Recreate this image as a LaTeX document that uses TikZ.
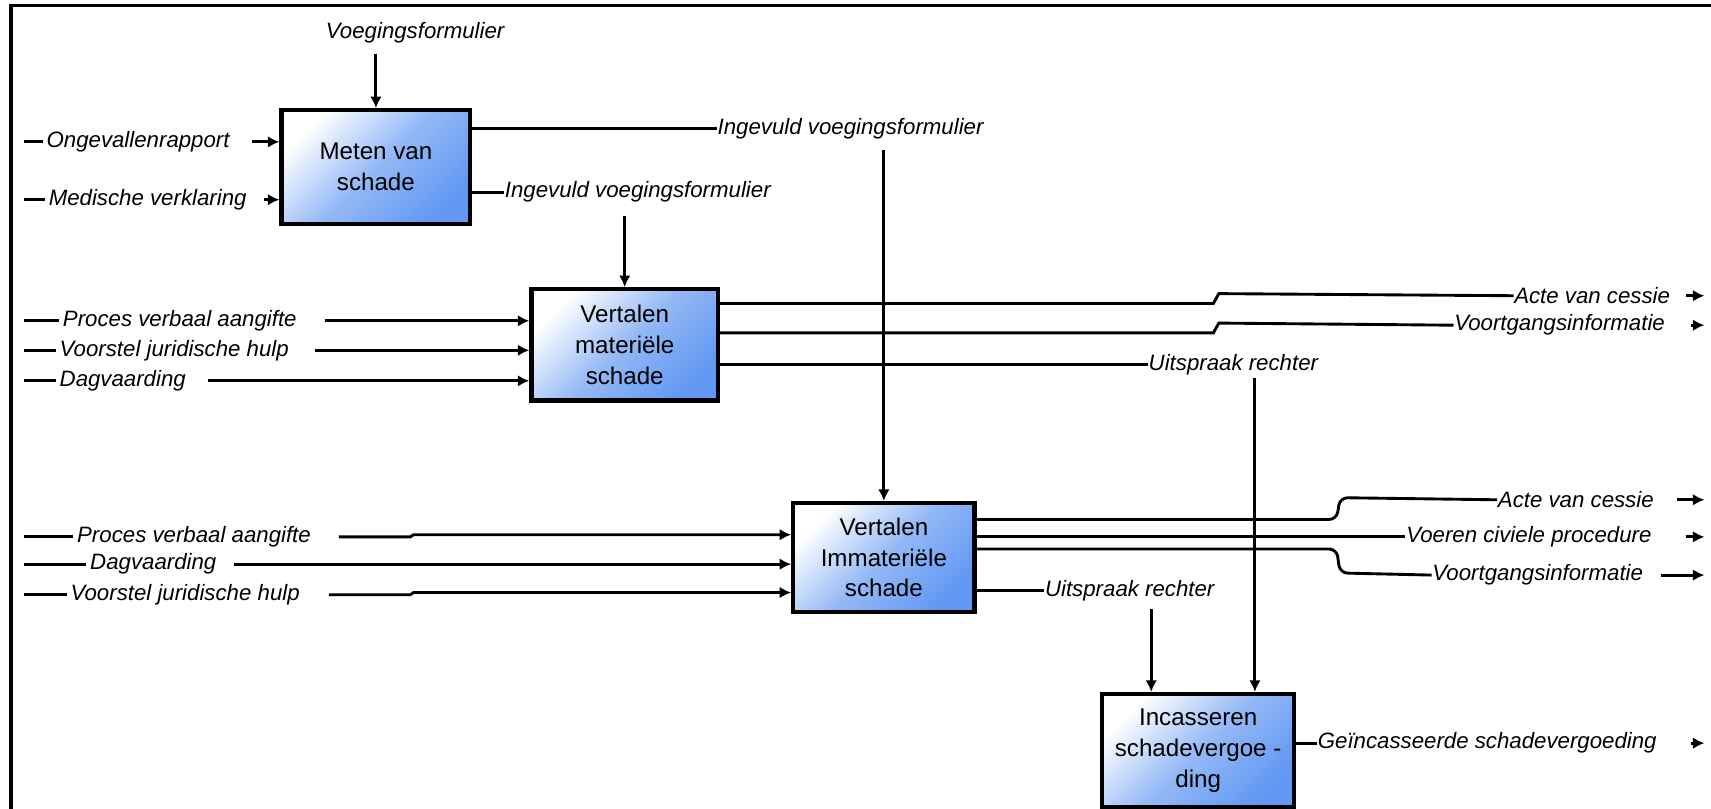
\documentclass[tikz,border=0pt]{standalone}
\usepackage{fontspec}
\setmainfont{Liberation Sans}
\usepackage{xcolor}
\usepackage{tikz}
\usetikzlibrary{calc,arrows.meta}
\definecolor{ink}{HTML}{000000}
\definecolor{boxlight}{HTML}{FFFFFF}
\definecolor{boxmid}{HTML}{94B9F5}
\definecolor{boxdark}{HTML}{6298F3}
\tikzset{
  frame/.style={draw=ink, line width=0.9pt},
  line/.style={draw=ink, line width=0.75pt},
  arr/.style={line, -{Latex[length=3pt,width=3pt]}},
  act/.style={draw=ink, line width=1.1pt, top color=boxlight, bottom color=boxdark,
    middle color=boxmid, shading angle=45, align=center, inner sep=0pt,
    font=\fontsize{6.3}{8}\selectfont},
  lbl/.style={font=\fontsize{5.8}{7}\selectfont\itshape, inner sep=0pt, anchor=west}
}

\begin{document}
\begin{tikzpicture}
  \useasboundingbox (0,0) rectangle (15.68,-7.41);
  \coordinate (tl) at (0.10,-0.05);
  \coordinate (lft) at (0.22,0);
  \coordinate (rgt) at (15.62,0);
  \coordinate (jog) at (3.76,0);
  \coordinate (dx1) at (11.50,-3.46);
  \coordinate (dx2) at (10.55,-5.58);

  \draw[frame] (15.68,-0.05) -- (tl) -- (0.10,-7.41);

  \node[act, minimum width=1.73cm, minimum height=1.04cm] (meten) at (3.445,-1.53) {Meten van\\schade};
  \node[act, minimum width=1.71cm, minimum height=1.02cm] (mat) at (5.725,-3.16) {Vertalen\\materiële\\schade};
  \node[act, minimum width=1.66cm, minimum height=1.00cm] (immat) at (8.10,-5.11) {Vertalen\\Immateriële\\schade};
  \node[act, minimum width=1.76cm, minimum height=1.04cm] (incas) at (10.98,-6.88) {Incasseren\\schadevergoe -\\ding};

  \node[lbl] (vform) at (2.98,-0.30) {Voegingsformulier};
  \node[lbl] (ongev) at (0.42,-1.30) {Ongevallenrapport};
  \node[lbl] (medv) at (0.44,-1.83) {Medische verklaring};
  \node[lbl] (ingev1) at (6.57,-1.18) {Ingevuld voegingsformulier};
  \node[lbl] (ingev2) at (4.62,-1.76) {Ingevuld voegingsformulier};
  \node[lbl] (pva1) at (0.57,-2.94) {Proces verbaal aangifte};
  \node[lbl] (vjh1) at (0.54,-3.21) {Voorstel juridische hulp};
  \node[lbl] (dag1) at (0.54,-3.49) {Dagvaarding};
  \node[lbl] (acte1) at (13.87,-2.71) {Acte van cessie};
  \node[lbl] (voort1) at (13.32,-2.98) {Voortgangsinformatie};
  \node[lbl] (uit1) at (10.52,-3.34) {Uitspraak rechter};
  \node[lbl] (pva2) at (0.70,-4.92) {Proces verbaal aangifte};
  \node[lbl] (dag2) at (0.82,-5.17) {Dagvaarding};
  \node[lbl] (vjh2) at (0.64,-5.45) {Voorstel juridische hulp};
  \node[lbl] (acte2) at (13.72,-4.58) {Acte van cessie};
  \node[lbl] (voeren) at (12.88,-4.92) {Voeren civiele procedure};
  \node[lbl] (voort2) at (13.12,-5.27) {Voortgangsinformatie};
  \node[lbl] (uit2) at (9.57,-5.41) {Uitspraak rechter};
  \node[lbl] (geinc) at (12.07,-6.81) {Geïncasseerde schadevergoeding};

  \foreach \lab in {ongev,medv,pva1,vjh1,dag1,pva2,dag2,vjh2}
    \draw[line] (lft |- \lab.west) -- ([xshift=-0.3mm]\lab.west);

  \draw[arr] ([xshift=2mm]ongev.east) -- (ongev -| meten.west);
  \draw[arr] ([xshift=-1.4mm]medv -| meten.west) -- (medv -| meten.west);
  \draw[arr] ([xshift=2.5mm]pva1.east) -- (pva1 -| mat.west);
  \draw[arr] ([xshift=2.3mm]vjh1.east) -- (vjh1 -| mat.west);
  \draw[arr] ([xshift=2mm]dag1.east) -- (dag1 -| mat.west);
  \draw[arr] ([xshift=2.5mm]pva2.east) -- (jog |- pva2) -- ([shift={(0.3mm,0.2mm)}]jog |- pva2)
    -- ([yshift=0.2mm]pva2 -| immat.west);
  \draw[arr] ([xshift=1.5mm]dag2.east) -- (dag2 -| immat.west);
  \draw[arr] ([xshift=2.6mm]vjh2.east) -- (jog |- vjh2) -- ([shift={(0.3mm,0.2mm)}]jog |- vjh2)
    -- ([yshift=0.2mm]vjh2 -| immat.west);

  \draw[arr] ([yshift=-0.9mm]vform.south -| meten.north) -- (meten.north);
  \draw[arr] ([yshift=-0.9mm]ingev1.south -| immat.north) -- (immat.north);
  \draw[arr] ([yshift=-1.2mm]ingev2.south -| mat.north) -- (mat.north);
  \draw[arr] (dx1) -- (dx1 |- incas.north);
  \draw[arr] (dx2) -- (dx2 |- incas.north);

  \draw[line] (meten.east |- ingev1) -- (ingev1.west);
  \draw[line] (meten.east |- ingev2) -- (ingev2.west);

  \draw[line] ([yshift=-1.5mm]mat.north east) -- ++(4.52,0) -- ++(0.05,0.09) -- (acte1.west);
  \draw[line] ([yshift=-4.2mm]mat.north east) -- ++(4.52,0) -- ++(0.05,0.09) -- (voort1.west);
  \draw[line] (uit1 -| mat.east) -- (uit1.west);

  \draw[line, rounded corners=2pt] ([yshift=-1.7mm]immat.north east) -- ++(3.30,0)
    -- ++(0.03,0.20) -- (acte2.west);
  \draw[line] (voeren -| immat.east) -- (voeren.west);
  \draw[line, rounded corners=2pt] ([yshift=-4.4mm]immat.north east) -- ++(3.30,0)
    -- ++(0.03,-0.22) -- (voort2.west);
  \draw[line] (uit2 -| immat.east) -- (uit2.west);
  \draw[line] (geinc -| incas.east) -- (geinc.west);

  \foreach \lab/\len in {acte1/1.7mm, voort1/1.2mm, acte2/2.5mm, voeren/1.7mm, voort2/4mm, geinc/1.2mm}
    \draw[arr] ([xshift=-\len]rgt |- \lab) -- (rgt |- \lab);
\end{tikzpicture}
\end{document}
